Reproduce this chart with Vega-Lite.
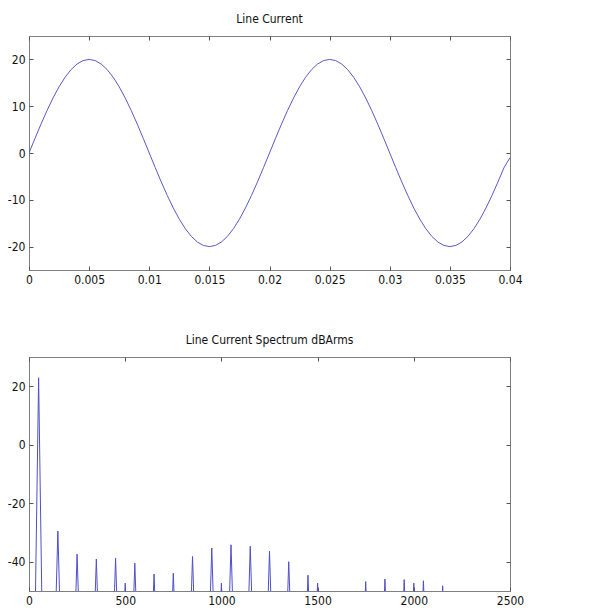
{
  "$schema": "https://vega.github.io/schema/vega-lite/v6.json",
  "padding": {"left": 6, "top": 12, "right": 5, "bottom": 0},
  "spacing": 47,
  "background": "white",
  "config": {
    "view": {"stroke": "#7f7f7f", "strokeWidth": 1},
    "font": "DejaVu Sans Condensed, Liberation Sans, sans-serif",
    "title": {"font": "DejaVu Sans Condensed, Liberation Sans, sans-serif", "fontSize": 12, "fontWeight": "normal", "color": "#111111", "offset": 10},
    "axis": {
      "domain": false, "grid": false, "title": null,
      "tickSize": -4, "tickColor": "#555555", "tickWidth": 1,
      "labelFont": "DejaVu Sans Condensed, Liberation Sans, sans-serif", "labelFontSize": 12, "labelColor": "#111111",
      "labelPadding": 8, "labelFlush": false, "labelExpr": "'' + datum.value"
    }
  },
  "datasets": {
    "current": [
      {"t": 0, "i": 0}, {"t": 0.0005, "i": 3.13}, {"t": 0.001, "i": 6.18}, {"t": 0.0015, "i": 9.08}, {"t": 0.002, "i": 11.76},
      {"t": 0.0025, "i": 14.14}, {"t": 0.003, "i": 16.18}, {"t": 0.0035, "i": 17.82}, {"t": 0.004, "i": 19.02}, {"t": 0.0045, "i": 19.75},
      {"t": 0.005, "i": 20}, {"t": 0.0055, "i": 19.75}, {"t": 0.006, "i": 19.02}, {"t": 0.0065, "i": 17.82}, {"t": 0.007, "i": 16.18},
      {"t": 0.0075, "i": 14.14}, {"t": 0.008, "i": 11.76}, {"t": 0.0085, "i": 9.08}, {"t": 0.009, "i": 6.18}, {"t": 0.0095, "i": 3.13},
      {"t": 0.01, "i": 0}, {"t": 0.0105, "i": -3.13}, {"t": 0.011, "i": -6.18}, {"t": 0.0115, "i": -9.08}, {"t": 0.012, "i": -11.76},
      {"t": 0.0125, "i": -14.14}, {"t": 0.013, "i": -16.18}, {"t": 0.0135, "i": -17.82}, {"t": 0.014, "i": -19.02}, {"t": 0.0145, "i": -19.75},
      {"t": 0.015, "i": -20}, {"t": 0.0155, "i": -19.75}, {"t": 0.016, "i": -19.02}, {"t": 0.0165, "i": -17.82}, {"t": 0.017, "i": -16.18},
      {"t": 0.0175, "i": -14.14}, {"t": 0.018, "i": -11.76}, {"t": 0.0185, "i": -9.08}, {"t": 0.019, "i": -6.18}, {"t": 0.0195, "i": -3.13},
      {"t": 0.02, "i": 0}, {"t": 0.0205, "i": 3.13}, {"t": 0.021, "i": 6.18}, {"t": 0.0215, "i": 9.08}, {"t": 0.022, "i": 11.76},
      {"t": 0.0225, "i": 14.14}, {"t": 0.023, "i": 16.18}, {"t": 0.0235, "i": 17.82}, {"t": 0.024, "i": 19.02}, {"t": 0.0245, "i": 19.75},
      {"t": 0.025, "i": 20}, {"t": 0.0255, "i": 19.75}, {"t": 0.026, "i": 19.02}, {"t": 0.0265, "i": 17.82}, {"t": 0.027, "i": 16.18},
      {"t": 0.0275, "i": 14.14}, {"t": 0.028, "i": 11.76}, {"t": 0.0285, "i": 9.08}, {"t": 0.029, "i": 6.18}, {"t": 0.0295, "i": 3.13},
      {"t": 0.03, "i": 0}, {"t": 0.0305, "i": -3.13}, {"t": 0.031, "i": -6.18}, {"t": 0.0315, "i": -9.08}, {"t": 0.032, "i": -11.76},
      {"t": 0.0325, "i": -14.14}, {"t": 0.033, "i": -16.18}, {"t": 0.0335, "i": -17.82}, {"t": 0.034, "i": -19.02}, {"t": 0.0345, "i": -19.75},
      {"t": 0.035, "i": -20}, {"t": 0.0355, "i": -19.75}, {"t": 0.036, "i": -19.02}, {"t": 0.0365, "i": -17.82}, {"t": 0.037, "i": -16.18},
      {"t": 0.0375, "i": -14.14}, {"t": 0.038, "i": -11.76}, {"t": 0.0385, "i": -9.08}, {"t": 0.039, "i": -6.18}, {"t": 0.0395, "i": -3.13},
      {"t": 0.04, "i": -1}
    ],
    "spectrum": [
      {"f": 0, "db": -90}, {"f": 25, "db": -90}, {"f": 50, "db": 22.9}, {"f": 75, "db": -90},
      {"f": 125, "db": -90}, {"f": 150, "db": -29.5}, {"f": 175, "db": -90},
      {"f": 225, "db": -90}, {"f": 250, "db": -37.4}, {"f": 275, "db": -90},
      {"f": 325, "db": -90}, {"f": 350, "db": -39.1}, {"f": 375, "db": -90},
      {"f": 425, "db": -90}, {"f": 450, "db": -38.8}, {"f": 475, "db": -90},
      {"f": 500, "db": -47.3}, {"f": 525, "db": -90},
      {"f": 550, "db": -40.5}, {"f": 575, "db": -90},
      {"f": 625, "db": -90}, {"f": 650, "db": -44.2}, {"f": 675, "db": -90},
      {"f": 725, "db": -90}, {"f": 750, "db": -43.9}, {"f": 775, "db": -90},
      {"f": 825, "db": -90}, {"f": 850, "db": -38.2}, {"f": 875, "db": -90},
      {"f": 925, "db": -90}, {"f": 950, "db": -35.3}, {"f": 975, "db": -90},
      {"f": 1000, "db": -47.3}, {"f": 1025, "db": -90},
      {"f": 1050, "db": -34.2}, {"f": 1075, "db": -90},
      {"f": 1125, "db": -90}, {"f": 1150, "db": -34.7}, {"f": 1175, "db": -90},
      {"f": 1225, "db": -90}, {"f": 1250, "db": -36.4}, {"f": 1275, "db": -90},
      {"f": 1325, "db": -90}, {"f": 1350, "db": -40.0}, {"f": 1375, "db": -90},
      {"f": 1425, "db": -90}, {"f": 1450, "db": -44.6}, {"f": 1475, "db": -90},
      {"f": 1500, "db": -47.3}, {"f": 1525, "db": -90},
      {"f": 1725, "db": -90}, {"f": 1750, "db": -46.8}, {"f": 1775, "db": -90},
      {"f": 1825, "db": -90}, {"f": 1850, "db": -45.9}, {"f": 1875, "db": -90},
      {"f": 1925, "db": -90}, {"f": 1950, "db": -46.1}, {"f": 1975, "db": -90},
      {"f": 2000, "db": -47.3}, {"f": 2025, "db": -90},
      {"f": 2050, "db": -46.5}, {"f": 2075, "db": -90},
      {"f": 2125, "db": -90}, {"f": 2150, "db": -48.2}, {"f": 2175, "db": -90},
      {"f": 2500, "db": -90}
    ]
  },
  "vconcat": [
    {
      "title": "Line Current",
      "width": 481,
      "height": 234,
      "data": {"name": "current"},
      "layer": [
        {
          "mark": {"type": "line", "color": "#5a5ac4", "strokeWidth": 1, "clip": true},
          "encoding": {
            "x": {"field": "t", "type": "quantitative", "scale": {"domain": [0, 0.04], "nice": false, "zero": false},
                  "axis": {"orient": "bottom", "values": [0, 0.005, 0.01, 0.015, 0.02, 0.025, 0.03, 0.035, 0.04]}},
            "y": {"field": "i", "type": "quantitative", "scale": {"domain": [-25, 25], "nice": false, "zero": false},
                  "axis": {"orient": "left", "values": [-20, -10, 0, 10, 20]}}
          }
        },
        {
          "mark": {"type": "point", "opacity": 0},
          "encoding": {
            "x": {"field": "t", "type": "quantitative",
                  "axis": {"orient": "top", "labels": false, "values": [0, 0.005, 0.01, 0.015, 0.02, 0.025, 0.03, 0.035, 0.04]}},
            "y": {"field": "i", "type": "quantitative",
                  "axis": {"orient": "right", "labels": false, "values": [-20, -10, 0, 10, 20]}}
          }
        }
      ],
      "resolve": {"axis": {"x": "independent", "y": "independent"}}
    },
    {
      "title": "Line Current Spectrum dBArms",
      "width": 481,
      "height": 234,
      "data": {"name": "spectrum"},
      "layer": [
        {
          "mark": {"type": "line", "color": "#4f4fcc", "strokeWidth": 1, "clip": true},
          "encoding": {
            "x": {"field": "f", "type": "quantitative", "scale": {"domain": [0, 2500], "nice": false, "zero": false},
                  "axis": {"orient": "bottom", "values": [0, 500, 1000, 1500, 2000, 2500]}},
            "y": {"field": "db", "type": "quantitative", "scale": {"domain": [-50, 30], "nice": false, "zero": false},
                  "axis": {"orient": "left", "values": [-40, -20, 0, 20]}}
          }
        },
        {
          "mark": {"type": "point", "opacity": 0, "clip": true},
          "encoding": {
            "x": {"field": "f", "type": "quantitative",
                  "axis": {"orient": "top", "labels": false, "values": [0, 500, 1000, 1500, 2000, 2500]}},
            "y": {"field": "db", "type": "quantitative",
                  "axis": {"orient": "right", "labels": false, "values": [-40, -20, 0, 20]}}
          }
        }
      ],
      "resolve": {"axis": {"x": "independent", "y": "independent"}}
    }
  ]
}
